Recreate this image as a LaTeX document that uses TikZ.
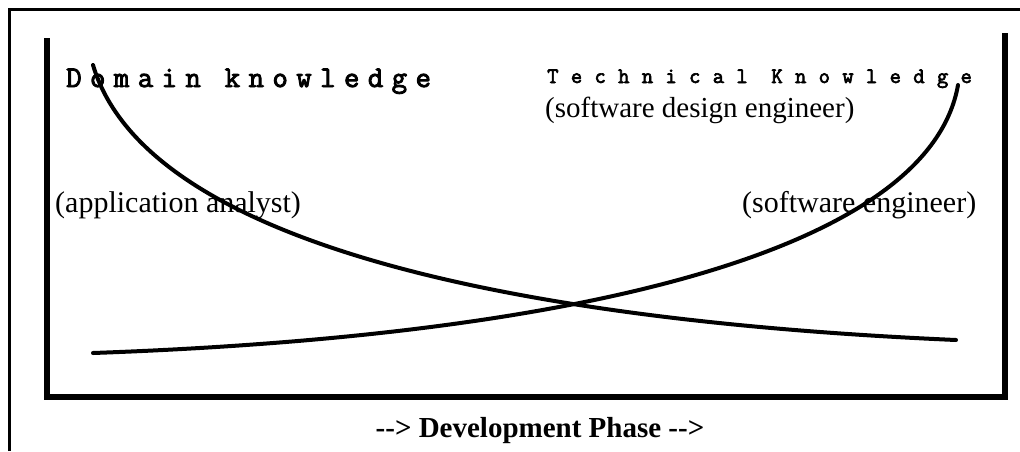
\documentclass[tikz,border=0pt]{standalone}
\usepackage{fontspec}
\setmainfont{Liberation Serif}
\newfontfamily\domfont[LetterSpace=28,FakeBold=3]{Latin Modern Mono}
\newfontfamily\techfont[LetterSpace=56,FakeBold=3]{Latin Modern Mono}
\begin{document}
\begin{tikzpicture}[x=1pt,y=-1pt,
  lbl/.style={inner sep=0pt, anchor=base west, font=\fontsize{30}{36}\selectfont},
  frameline/.style={line width=3pt},
  boxline/.style={line width=6pt, line join=miter},
  curveline/.style={line width=4pt, line cap=round}]
\useasboundingbox (0,0) rectangle (1020,451);
% outer frame
\draw[frameline] (9,451) -- (9,9) -- (1020,9);
% inner box
\draw[boxline] (47,38) -- (47,397) -- (1005,397) -- (1005,33);
% labels
\node[lbl, font=\domfont\fontsize{30}{34}\selectfont] (dom) at (66,87) {Domain knowledge};
\node[lbl, font=\techfont\fontsize{22}{26}\selectfont] (tech) at (547,83) {Technical Knowledge};
\node[lbl, font=\fontsize{29}{34}\selectfont] (sde) at (545,117) {(software design engineer)};
\node[lbl] (aa) at (55,212) {(application analyst)};
\node[lbl] (se) at (742,212) {(software engineer)};
\node[lbl, anchor=base, font=\bfseries\fontsize{29}{34}\selectfont] (phase) at (540,437) {-{}-> Development Phase -{}->};
% curves
\draw[curveline] (93,65) .. controls (145,240) and (500,320) .. (956,340);
\draw[curveline] (93,353) .. controls (600,335) and (930,245) .. (958,85);
\end{tikzpicture}
\end{document}
